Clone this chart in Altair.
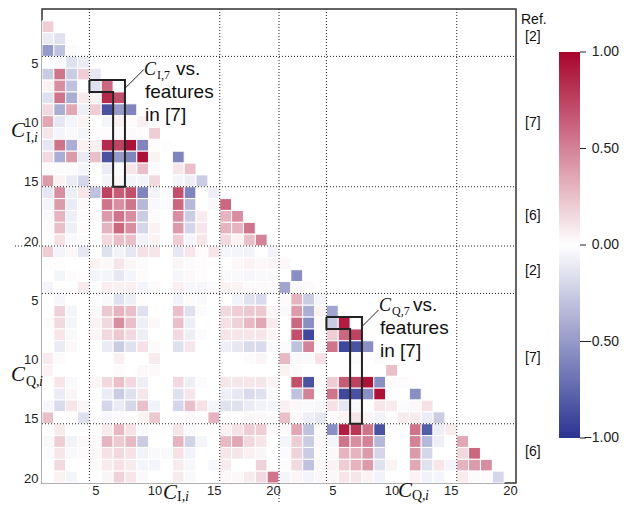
import altair as alt
import pandas as pd

# ---------------- data (correlation coefficients, lower triangle) ----------------
# rows C_I,2 .. C_I,20 vs columns C_I,1 .. C_I,(i-1)
II_rows = [
    [0.2],
    [-0.1, -0.15],
    [-0.5, -0.3, 0.02],
    [0.0, -0.03, -0.15, -0.1],
    [-0.25, 0.55, -0.25, 0.2, -0.12],
    [0.05, 0.45, -0.3, 0.0, -0.15, 0.6],
    [-0.15, 0.55, -0.4, 0.08, 0.05, 0.85, 0.7],
    [0.15, -0.4, 0.35, -0.08, 0.2, -0.85, -0.5, -0.6],
    [0.35, -0.12, -0.05, 0.05, 0.0, -0.05, 0.05, 0.02, 0.06],
    [0.1, -0.05, -0.03, -0.05, 0.01, 0.01, 0.02, 0.02, 0.01, 0.2],
    [-0.12, 0.55, -0.4, 0.06, 0.06, 0.85, 0.75, 0.95, -0.6, 0.01, 0.01],
    [0.15, -0.4, 0.4, -0.1, 0.25, -0.85, -0.5, -0.6, 0.95, 0.05, 0.0, -0.6],
    [0.02, 0.02, 0.02, -0.05, 0.0, -0.1, 0.02, 0.1, 0.25, 0.02, 0.0, 0.1, 0.25],
    [0.4, 0.05, -0.1, -0.2, 0.0, -0.05, 0.03, -0.05, -0.05, 0.15, 0.0, -0.05, -0.08, -0.25],
    [-0.12, 0.45, -0.08, 0.1, -0.3, 0.75, 0.65, 0.7, -0.6, -0.05, -0.02, 0.7, -0.6, 0.0, -0.08],
    [-0.05, 0.4, -0.1, 0.03, 0.0, 0.55, 0.45, 0.55, -0.35, -0.03, -0.02, 0.6, -0.35, 0.0, -0.03, 0.6],
    [-0.03, 0.3, -0.08, 0.02, 0.02, 0.4, 0.55, 0.45, -0.25, 0.02, 0.0, 0.45, -0.25, 0.08, 0.0, 0.3, 0.45],
    [0.02, 0.25, -0.08, 0.02, 0.0, 0.3, 0.6, 0.45, -0.2, 0.05, 0.0, 0.4, -0.2, 0.1, 0.0, 0.3, 0.3, 0.55],
    [0.0, 0.12, -0.03, 0.02, 0.0, 0.15, 0.25, 0.25, -0.06, 0.05, 0.0, 0.2, -0.05, 0.1, 0.0, 0.15, 0.05, 0.25, 0.5],
]
# rows C_Q,1 .. C_Q,20 vs columns C_I,1 .. C_I,20
QI_rows = [
    [0.2, -0.05, 0.03, -0.12, 0.0, -0.15, -0.06, -0.12, 0.12, 0.1, 0.0, -0.12, 0.1, 0.02, 0.1, -0.05, -0.05, -0.06, 0.0, -0.06],
    [0.01, 0.01, 0.0, 0.0, 0.05, 0.03, 0.1, 0.04, 0.02, 0.0, 0.0, 0.04, 0.02, 0.01, 0.01, 0.0, 0.03, 0.05, 0.03, 0.04],
    [0.0, -0.05, 0.02, 0.01, -0.05, -0.05, -0.12, -0.05, 0.02, 0.0, 0.0, -0.04, 0.03, 0.01, 0.0, -0.03, -0.03, -0.04, -0.03, -0.03],
    [-0.05, 0.0, 0.0, 0.08, 0.0, 0.07, 0.06, 0.06, -0.05, 0.02, 0.0, 0.06, -0.04, -0.04, -0.02, 0.05, 0.05, 0.02, 0.02, 0.01],
    [0.0, -0.04, 0.0, 0.0, 0.01, -0.03, -0.15, -0.08, 0.01, 0.0, 0.0, -0.06, 0.02, -0.03, 0.0, 0.0, -0.06, -0.15, -0.18, 0.0],
    [0.0, 0.18, -0.05, 0.0, 0.03, 0.22, 0.3, 0.25, -0.15, 0.0, 0.0, 0.25, -0.15, -0.02, 0.0, 0.15, 0.2, 0.22, 0.22, 0.04],
    [0.02, 0.15, -0.05, 0.0, 0.05, 0.15, 0.45, 0.25, -0.08, 0.03, 0.0, 0.25, -0.08, 0.0, 0.0, 0.12, 0.18, 0.28, 0.35, 0.08],
    [0.0, 0.1, -0.03, 0.0, 0.04, 0.15, 0.22, 0.15, -0.08, 0.0, 0.0, 0.15, -0.08, -0.02, 0.0, 0.1, 0.1, 0.1, 0.1, 0.04],
    [0.0, -0.1, 0.03, 0.0, 0.0, -0.1, -0.25, -0.15, 0.12, 0.02, 0.0, -0.15, 0.1, 0.0, 0.0, -0.08, -0.12, -0.18, -0.18, -0.03],
    [0.08, 0.02, 0.0, 0.0, 0.0, 0.0, 0.06, 0.0, 0.0, 0.08, 0.0, 0.0, 0.0, 0.0, 0.0, 0.0, 0.0, 0.02, 0.04, 0.0],
    [0.05, 0.0, 0.0, 0.0, 0.0, 0.0, 0.02, 0.0, 0.03, 0.03, 0.0, 0.0, 0.0, 0.0, 0.0, 0.0, 0.0, 0.0, 0.0, 0.0],
    [0.0, 0.1, -0.03, 0.0, 0.04, 0.15, 0.25, 0.15, -0.08, 0.0, 0.0, 0.15, -0.08, -0.02, 0.0, 0.1, 0.1, 0.1, 0.1, 0.05],
    [0.0, -0.1, 0.04, 0.0, 0.0, -0.1, -0.25, -0.15, 0.1, 0.0, 0.0, -0.15, 0.1, 0.0, 0.0, -0.08, -0.12, -0.18, -0.15, -0.03],
    [-0.04, -0.18, 0.1, 0.04, 0.0, -0.2, -0.1, -0.2, 0.25, -0.06, 0.0, -0.2, 0.25, 0.12, -0.05, -0.15, -0.15, -0.1, -0.06, -0.05],
    [0.25, 0.0, 0.0, -0.15, 0.0, -0.04, 0.02, 0.0, 0.05, 0.22, 0.0, 0.0, 0.03, 0.0, 0.3, 0.0, 0.0, 0.03, 0.03, 0.0],
    [0.0, 0.08, 0.0, 0.0, 0.0, 0.08, 0.28, 0.12, -0.03, 0.0, 0.0, 0.1, -0.03, 0.0, 0.0, 0.05, 0.12, 0.2, 0.2, 0.02],
    [-0.03, 0.2, -0.06, 0.03, 0.02, 0.3, 0.22, 0.28, -0.25, 0.0, 0.0, 0.3, -0.22, -0.05, 0.0, 0.28, 0.35, 0.15, 0.1, 0.0],
    [-0.02, 0.1, -0.03, 0.02, 0.03, 0.12, 0.15, 0.12, -0.06, -0.03, -0.03, 0.12, -0.06, 0.0, 0.0, 0.1, 0.1, 0.06, 0.04, 0.0],
    [0.0, 0.15, 0.0, 0.0, 0.02, 0.08, 0.12, 0.08, -0.05, -0.05, 0.0, 0.08, -0.04, 0.0, -0.04, 0.08, 0.0, 0.0, 0.18, 0.0],
    [0.0, 0.05, -0.05, 0.0, 0.0, 0.04, 0.18, 0.1, -0.03, 0.0, 0.0, 0.08, -0.03, 0.0, 0.0, 0.03, 0.03, 0.08, 0.15, 0.55],
]
# rows C_Q,2 .. C_Q,20 vs columns C_Q,1 .. C_Q,(i-1)
QQ_rows = [
    [0.03],
    [0.0, -0.55],
    [-0.45, -0.03, 0.02],
    [0.02, 0.3, -0.25, -0.05],
    [-0.03, 0.4, -0.4, 0.05, -0.45],
    [0.0, 0.6, -0.55, 0.03, -0.25, 0.9],
    [0.0, 0.7, -0.9, 0.0, 0.2, 0.6, 0.75],
    [-0.02, -0.3, 0.5, -0.02, 0.55, -0.9, -0.85, -0.55],
    [0.28, -0.03, -0.03, 0.12, 0.0, 0.0, 0.02, 0.0, 0.02],
    [0.05, 0.02, 0.0, 0.0, 0.0, 0.0, 0.0, 0.0, 0.0, 0.25],
    [0.0, 0.7, -0.85, 0.0, 0.2, 0.65, 0.75, 0.95, -0.55, 0.02, 0.02],
    [0.0, -0.3, 0.5, 0.0, 0.55, -0.9, -0.85, -0.55, 0.95, 0.0, 0.0, -0.55],
    [0.06, 0.03, -0.03, -0.04, 0.12, -0.12, -0.03, 0.0, 0.1, 0.08, -0.02, 0.03, 0.12],
    [0.25, 0.03, -0.08, -0.12, 0.02, 0.05, 0.1, 0.04, -0.06, 0.01, 0.08, 0.08, -0.1, -0.25],
    [0.02, 0.35, -0.3, 0.02, -0.55, 0.9, 0.8, 0.55, -0.85, 0.0, 0.0, 0.55, -0.8, -0.08, 0.08],
    [-0.05, 0.2, -0.25, 0.03, -0.05, 0.55, 0.45, 0.5, -0.35, 0.0, 0.0, 0.5, -0.35, -0.08, 0.0, 0.35],
    [-0.02, 0.18, -0.25, 0.02, 0.03, 0.3, 0.3, 0.4, -0.2, 0.0, 0.0, 0.4, -0.2, 0.0, 0.0, 0.15, 0.6],
    [-0.02, 0.15, -0.3, 0.03, 0.05, 0.2, 0.3, 0.4, -0.15, 0.05, 0.0, 0.35, -0.15, 0.1, -0.05, 0.3, 0.4, 0.45],
    [-0.05, 0.04, -0.05, 0.03, 0.03, 0.1, 0.1, 0.05, -0.06, 0.0, 0.0, 0.05, -0.06, -0.05, 0.0, 0.08, 0.02, 0.02, -0.2],
]

tick_values = [5, 10, 15, 20, 25, 30, 35, 40]
group_bounds = [4.5, 15.5, 24.5, 35.5]
iq_bound = [20.5]
cbar_ticks = [-1.0, -0.5, 0.0, 0.5, 1.0]
ref_labels = ["[2]", "[7]", "[6]", "[2]", "[7]", "[6]"]

# highlighted feature outlines (cell-edge coordinates) for C_I,7 and C_Q,7
box_x = [4.5, 7.5, 7.5, 6.5, 6.5, 4.5, 4.5]
box_y = [6.5, 6.5, 15.5, 15.5, 7.5, 7.5, 6.5]

# ---------------- build tables ----------------
recs = []
for k, vals in enumerate(II_rows):
    for c, v in enumerate(vals, start=1):
        recs.append((k + 2, c, v))
for k, vals in enumerate(QI_rows):
    for c, v in enumerate(vals, start=1):
        recs.append((k + 21, c, v))
for k, vals in enumerate(QQ_rows):
    for c, v in enumerate(vals, start=21):
        recs.append((k + 22, c, v))
df = pd.DataFrame(recs, columns=["row", "col", "rho"])
df["x0"] = df["col"] - 0.5
df["x1"] = df["col"] + 0.5
df["y0"] = df["row"] - 0.5
df["y1"] = df["row"] + 0.5

box_df = pd.DataFrame({
    "box": ["I"] * len(box_x) + ["Q"] * len(box_x),
    "k": list(range(len(box_x))) * 2,
    "bx": box_x + [v + 20 for v in box_x],
    "by": box_y + [v + 20 for v in box_y],
})
lead_df = pd.DataFrame({"lx": [7.5, 27.5], "ly": [7.2, 27.3], "lx2": [9.1, 28.9], "ly2": [5.6, 25.9]})

W = 474
H = 474
OX, OY = 42, 9          # absolute origin of the plot area
SVG_W, SVG_H = 612, 496  # total drawing size that fits the window
CB_Y, CB_LEN, CB_W = 43, 386, 21   # colour bar geometry (relative to plot origin)
CB_X = 517

xs = alt.Scale(domain=[0.5, 40.5], nice=False, zero=False)
ys = alt.Scale(domain=[0.5, 40.5], nice=False, zero=False, reverse=True)
label_expr = "datum.value > 20 ? datum.value - 20 : datum.value"
xaxis = alt.Axis(values=tick_values, labelExpr=label_expr, ticks=False, domain=False, grid=False,
                 labelFontSize=13, labelFont="Liberation Sans", labelColor="#222", labelPadding=1, labelAngle=0)
yaxis = alt.Axis(values=tick_values, labelExpr=label_expr, ticks=False, domain=False, grid=False,
                 labelFontSize=13, labelFont="Liberation Sans", labelColor="#222", labelPadding=4,
                 labelBaseline="middle", labelOffset=1)

blue, white, red = "#2b3492", "#ffffff", "#a8042c"

heat = alt.Chart(df).mark_rect(stroke="white", strokeWidth=1).encode(
    x=alt.X("x0:Q", scale=xs, axis=xaxis, title=None),
    x2="x1",
    y=alt.Y("y0:Q", scale=ys, axis=yaxis, title=None),
    y2="y1",
    color=alt.Color(
        "rho:Q",
        scale=alt.Scale(domain=[-1, 0, 1], range=[blue, white, red], interpolate="rgb"),
        legend=alt.Legend(orient="none", legendX=CB_X, legendY=CB_Y, direction="vertical",
                          gradientLength=CB_LEN, gradientThickness=CB_W, title=None,
                          values=cbar_ticks, labelExpr="''", labelFontSize=1,
                          gradientStrokeWidth=0, padding=0),
    ),
)

dots = [1, 2]
hl = alt.Chart(pd.DataFrame({"b": group_bounds})).mark_rule(strokeDash=dots, color="#222", strokeWidth=1).encode(
    y=alt.Y("b:Q", scale=ys, title=None), x=alt.value(0), x2=alt.value(W))
vl = alt.Chart(pd.DataFrame({"b": group_bounds})).mark_rule(strokeDash=dots, color="#222", strokeWidth=1).encode(
    x=alt.X("b:Q", scale=xs, title=None), y=alt.value(0), y2=alt.value(H))
hl_iq = alt.Chart(pd.DataFrame({"b": iq_bound})).mark_rule(strokeDash=dots, color="#222", strokeWidth=1).encode(
    y=alt.Y("b:Q", scale=ys, title=None), x=alt.value(15 - OX), x2=alt.value(W))
vl_iq = alt.Chart(pd.DataFrame({"b": iq_bound})).mark_rule(strokeDash=dots, color="#222", strokeWidth=1).encode(
    x=alt.X("b:Q", scale=xs, title=None), y=alt.value(0), y2=alt.value(SVG_H))

boxes = alt.Chart(box_df).mark_line(color="#222", strokeWidth=2, strokeJoin="miter").encode(
    x=alt.X("bx:Q", scale=xs, title=None), y=alt.Y("by:Q", scale=ys, title=None),
    detail="box:N", order="k:Q")
leads = alt.Chart(lead_df).mark_rule(color="#222", strokeWidth=1).encode(
    x=alt.X("lx:Q", scale=xs, title=None), y=alt.Y("ly:Q", scale=ys, title=None), x2="lx2", y2="ly2")

# colour-bar ticks and labels (same mapping as the legend gradient)
cb_base = alt.Chart(pd.DataFrame({"v": cbar_ticks})).transform_calculate(
    cy=f"0.5 + ({CB_Y} + (1 - datum.v) * {CB_LEN / 2}) * 40 / {H}"
)
cbt = cb_base.mark_rule(color="#222", strokeWidth=1).encode(
    y=alt.Y("cy:Q", scale=ys, title=None),
    x=alt.value(CB_X + CB_W), x2=alt.value(CB_X + CB_W + 6))
cbl = cb_base.mark_text(align="right", baseline="middle", fontSize=14, font="Liberation Sans",
                        color="#222").encode(
    y=alt.Y("cy:Q", scale=ys, title=None),
    x=alt.value(SVG_W + 8 - 1 - OX),
    text=alt.Text("v:Q", format=".2f"))


def txt(s, ax, ay, size, font="Liberation Sans", style="normal", baseline="alphabetic"):
    return alt.Chart(pd.DataFrame({"t": [s]})).mark_text(
        align="left", baseline=baseline, fontSize=size, font=font, fontStyle=style, color="#111"
    ).encode(x=alt.value(ax - OX), y=alt.value(ay - OY), text="t:N")


SERIF = "Liberation Serif"
texts = [
    # left axis titles
    txt("C", 11, 137, 21, SERIF, "italic"), txt("I,", 26, 142, 14, SERIF), txt("i", 34, 142, 14, SERIF, "italic"),
    txt("C", 11, 381, 21, SERIF, "italic"), txt("Q,", 26, 386, 14, SERIF), txt("i", 39, 386, 14, SERIF, "italic"),
    # bottom axis titles
    txt("C", 163, 499, 21, SERIF, "italic"), txt("I,", 177, 501, 14, SERIF), txt("i", 185, 501, 14, SERIF, "italic"),
    txt("C", 398, 497, 21, SERIF, "italic"), txt("Q,", 412, 500, 14, SERIF), txt("i", 425, 500, 14, SERIF, "italic"),
    # annotation I
    txt("C", 144, 75, 18, SERIF, "italic"), txt("I,7", 157, 79, 12, SERIF), txt("vs.", 176, 75, 19),
    txt("features", 145, 98, 19), txt("in [7]", 145, 121, 19),
    # annotation Q
    txt("C", 379, 311, 18, SERIF, "italic"), txt("Q,7", 392, 315, 12, SERIF), txt("vs.", 413, 311, 19),
    txt("features", 380, 334, 19), txt("in [7]", 380, 357, 19),
    # reference labels
    txt("Ref.", 521, 20, 14, baseline="middle"),
]
for lab, cy in zip(ref_labels, [37, 123, 216, 271, 358, 452]):
    texts.append(txt(lab, 525, cy, 14, baseline="middle"))

chart = alt.layer(heat, hl, vl, hl_iq, vl_iq, boxes, leads, cbt, cbl, *texts).properties(
    width=W, height=H,
    autosize=alt.AutoSizeParams(type="none"),
    padding={"left": OX - 8, "top": OY - 8, "right": SVG_W - (OX - 8) - W, "bottom": SVG_H - (OY - 8) - H},
).configure_view(stroke="#333", strokeWidth=1.5)

chart.save("out.html", embed_options={"renderer": "svg", "actions": False})
